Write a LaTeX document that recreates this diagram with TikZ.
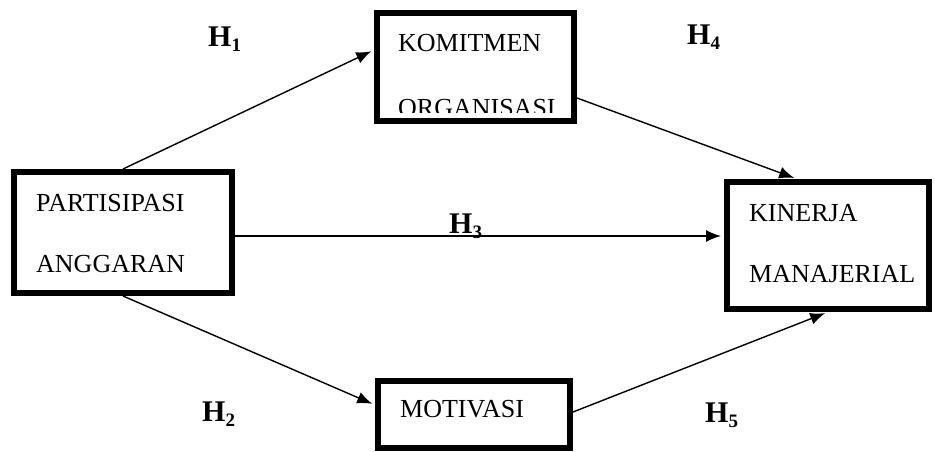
\documentclass[tikz,border=0pt]{standalone}
\usepackage{fontspec}
\setmainfont{Liberation Serif}
\usetikzlibrary{arrows.meta,calc}
\tikzset{
  boxnode/.style={draw=black, line width=6pt, rectangle, inner sep=0pt},
  lbl/.style={anchor=base west, inner sep=0pt, font=\fontsize{26}{27}\selectfont},
  hyp/.style={anchor=base west, inner sep=0pt, font=\fontsize{30}{30}\selectfont\bfseries},
  arr/.style={line width=1.4pt, -{Latex[length=15pt,width=12pt]}, shorten >=3pt}
}
\newcommand{\hlab}[1]{H\raisebox{-5pt}{\fontsize{19}{19}\selectfont #1}}
\begin{document}
\begin{tikzpicture}[x=1pt,y=-1pt]
\useasboundingbox (0,0) rectangle (935,452);
% boxes
\node[boxnode, minimum width=218pt, minimum height=121pt] (pa) at (123,232.5) {};
\node[boxnode, minimum width=197pt, minimum height=108pt] (ko) at (475.5,67) {};
\node[boxnode, minimum width=202pt, minimum height=127pt] (ki) at (828,245.5) {};
\node[boxnode, minimum width=192pt, minimum height=67pt] (mo) at (474,414.5) {};
% texts
\node[lbl] (pa1) at (36,211) {PARTISIPASI};
\node[lbl] (pa2) at (36,272) {ANGGARAN};
\node[lbl] (ko1) at (398,52) {KOMITMEN};
\begin{scope}
\clip (377,13) rectangle (574,112);
\node[lbl] (ko2) at (398,117) {ORGANISASI};
\end{scope}
\node[lbl] (ki1) at (749,221) {KINERJA};
\node[lbl] (ki2) at (749,282) {MANAJERIAL};
\node[lbl] (mo1) at (400,417) {MOTIVASI};
% connectors
\draw[arr] (pa.north) -- (ko.west |- {(0,50)});
\draw[arr] (ko.east |- {(0,98)}) -- ($(ki.north west)+(73,0)$);
\draw[arr] (pa.east |- {(0,236)}) -- (ki.west |- {(0,236)});
\draw[arr] (pa.south) -- (mo.west |- {(0,405)});
\draw[arr] (mo.east |- {(0,412)}) -- (ki.south);
% hypothesis labels
\node[hyp] (h1) at (208,47) {\hlab{1}};
\node[hyp] (h4) at (687,45) {\hlab{4}};
\node[hyp] (h3) at (449,233) {\hlab{3}};
\node[hyp] (h2) at (202,421) {\hlab{2}};
\node[hyp] (h5) at (705,422) {\hlab{5}};
\end{tikzpicture}
\end{document}
